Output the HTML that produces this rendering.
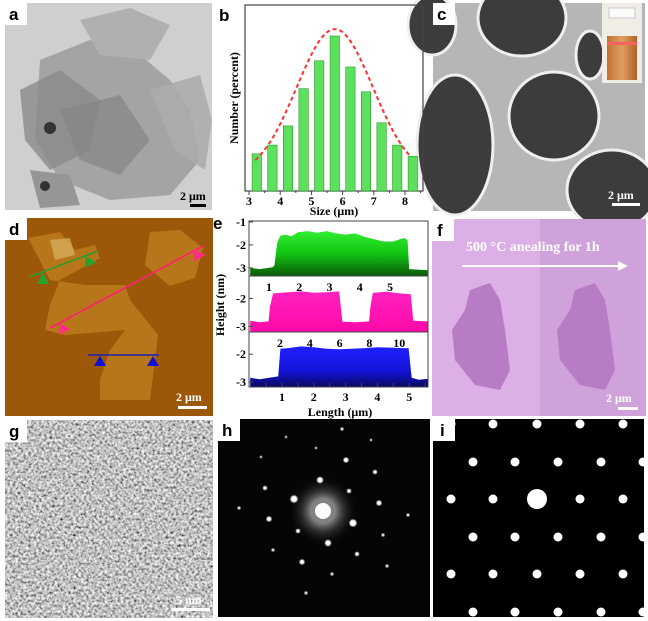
<!DOCTYPE html>
<html><head><meta charset="utf-8"><style>
html,body{margin:0;padding:0;background:#fff}
svg{display:block}
text{font-family:"Liberation Serif",serif;font-weight:bold}
.lab{font-family:"Liberation Sans",sans-serif;font-weight:bold;font-size:17px}
</style></head><body>
<svg id="fig" width="648" height="621" viewBox="0 0 648 621">
<defs>
<filter id="noise2" x="0" y="0" width="100%" height="100%"><feTurbulence type="fractalNoise" baseFrequency="0.38" numOctaves="2" seed="7"/><feColorMatrix type="matrix" values="1.5 0 0 0 -0.22 1.5 0 0 0 -0.22 1.5 0 0 0 -0.22 0 0 0 0 1"/></filter>
<filter id="blur1"><feGaussianBlur stdDeviation="0.6"/></filter>
<radialGradient id="glow"><stop offset="0" stop-color="#fff"/><stop offset="0.35" stop-color="#fff"/><stop offset="0.6" stop-color="#aaa" stop-opacity="0.5"/><stop offset="1" stop-color="#000" stop-opacity="0"/></radialGradient>
<linearGradient id="gGreen" x1="0" y1="0" x2="0" y2="1"><stop offset="0" stop-color="#30ee30"/><stop offset="0.5" stop-color="#12c412"/><stop offset="1" stop-color="#0a5a0a"/></linearGradient>
<linearGradient id="gMag" x1="0" y1="0" x2="0" y2="1"><stop offset="0" stop-color="#ff20c0"/><stop offset="1" stop-color="#ff0aa8"/></linearGradient>
<linearGradient id="gBlue" x1="0" y1="0" x2="0" y2="1"><stop offset="0" stop-color="#2020ff"/><stop offset="0.6" stop-color="#1414d8"/><stop offset="1" stop-color="#0a0a60"/></linearGradient>
<linearGradient id="vial" x1="0" y1="0" x2="1" y2="0"><stop offset="0" stop-color="#c07030"/><stop offset="0.5" stop-color="#e0a060"/><stop offset="1" stop-color="#b06028"/></linearGradient>
</defs>

<g>
<rect x="5" y="3" width="207" height="207" fill="#cfcfcf"/>
<polygon points="40,60 90,40 140,55 170,80 190,110 200,160 170,195 110,200 60,180 35,140" fill="#9e9e9e" opacity="0.9"/>
<polygon points="20,90 60,70 100,100 90,150 50,170 25,140" fill="#8a8a8a" opacity="0.8"/>
<polygon points="80,20 130,8 170,25 150,60 100,55" fill="#b0b0b0"/>
<polygon points="60,110 120,95 150,140 120,175 80,160" fill="#848484" opacity="0.7"/>
<polygon points="150,90 200,75 212,120 205,170 175,150" fill="#acacac" opacity="0.9"/>
<polygon points="30,170 70,175 80,205 40,208" fill="#969696"/>
<circle cx="50" cy="128" r="6" fill="#333"/><circle cx="45" cy="186" r="5" fill="#333"/>
<rect x="5" y="3" width="22" height="22" fill="#fff"/>
<text class="lab" x="9" y="20">a</text>
<text x="180" y="200" font-size="12" fill="#000">2 μm</text>
<rect x="190" y="204" width="16" height="3" fill="#000"/>
</g>

<g>
<rect x="433" y="3" width="212" height="208" fill="#b6b6b6"/>
<g fill="#3c3c3c" stroke="#efefef" stroke-width="3">
<ellipse cx="522" cy="18" rx="44" ry="38"/>
<ellipse cx="432" cy="25" rx="24" ry="30"/>
<ellipse cx="455" cy="145" rx="38" ry="70"/>
<ellipse cx="554" cy="116" rx="45" ry="44"/>
<ellipse cx="612" cy="190" rx="45" ry="40"/>
<ellipse cx="590" cy="55" rx="14" ry="24"/>
</g>
<rect x="602" y="3" width="40" height="80" fill="#f0ece6"/>
<rect x="609" y="8" width="26" height="10" fill="#fafafa" stroke="#ccc"/>
<rect x="607" y="36" width="30" height="44" fill="url(#vial)"/>
<rect x="607" y="42" width="30" height="3" fill="#ff6060"/>
<rect x="433" y="3" width="22" height="22" fill="#fff"/>
<text class="lab" x="437" y="20">c</text>
<text x="608" y="199" font-size="12" fill="#fff">2 μm</text>
<rect x="612" y="203" width="28" height="3" fill="#fff"/>
</g>

<g>
<rect x="5" y="218" width="208" height="198" fill="#9c5808"/>
<polygon points="28,238 60,232 75,250 95,245 100,258 60,280 50,305 45,330 65,335 125,330 110,350 100,380 100,400 150,400 158,335 130,300 125,285 110,285 85,285 50,280" fill="#b8761a"/>
<polygon points="150,232 180,230 203,248 195,278 170,286 145,265" fill="#b8761a"/>
<polygon points="50,240 70,238 75,255 55,260" fill="#e0c070" opacity="0.6"/>
<g stroke-width="1.6">
<line x1="29" y1="277" x2="98" y2="251" stroke="#2c9a2c"/>
<line x1="50" y1="328" x2="203" y2="246" stroke="#ff2070"/>
<line x1="88" y1="355" x2="159" y2="355" stroke="#2020b0"/>
</g>
<polygon points="37,284 43,272 49,284" fill="#2ca02c"/><polygon points="85,268 97,262 85,256" fill="#2ca02c"/>
<polygon points="59,323 71,329 59,335" fill="#ff3080"/><polygon points="194,249 206,255 194,261" fill="#ff3080"/>
<polygon points="94,366 100,356 106,366" fill="#1010d0"/><polygon points="147,366 153,356 159,366" fill="#1010d0"/>
<rect x="5" y="218" width="22" height="22" fill="#fff"/>
<text class="lab" x="9" y="235">d</text>
<text x="176" y="401" font-size="12" fill="#fff">2 μm</text>
<rect x="178" y="406" width="29" height="3" fill="#fff"/>
</g>

<g>
<rect x="432" y="219" width="108" height="197" fill="#dcb0e6"/>
<rect x="540" y="219" width="106" height="197" fill="#cfa2dc"/>
<polygon points="470,290 490,283 500,300 505,330 510,370 500,390 475,385 455,360 452,330 465,310" fill="#b87cc4"/>
<polygon points="575,290 595,283 605,300 610,330 615,370 605,390 580,385 560,360 557,330 570,310" fill="#b87cc4"/>
<text x="466" y="251" font-size="14" fill="#fff">500 °C anealing for 1h</text>
<line x1="462" y1="266" x2="620" y2="266" stroke="#fff" stroke-width="2"/>
<polygon points="618,261 628,266 618,271" fill="#fff"/>
<rect x="432" y="219" width="22" height="22" fill="#fff"/>
<text class="lab" x="437" y="236">f</text>
<text x="606" y="402" font-size="12" fill="#fff">2 μm</text>
<rect x="618" y="407" width="20" height="3" fill="#fff"/>
</g>

<g>
<rect x="5" y="420" width="208" height="198" fill="#888"/>
<rect x="5" y="420" width="208" height="198" filter="url(#noise2)"/>
<rect x="5" y="420" width="22" height="22" fill="#fff"/>
<text class="lab" x="9" y="437">g</text>
<text x="176" y="604" font-size="12" fill="#fff">5 nm</text>
<rect x="172" y="608" width="38" height="3" fill="#fff"/>
</g>

<g id="panelH">
<rect x="218" y="419" width="212" height="198" fill="#050505"/>
<circle cx="323" cy="511" r="35" fill="url(#glow)" opacity="0.5"/>
<circle cx="323" cy="511" r="8" fill="#fff"/>
</g>

<g id="panelI">
<rect x="433" y="419" width="211" height="198" fill="#000"/>
<circle cx="537" cy="499" r="10" fill="#fff"/>
</g>

<g id="chartB">
<text class="lab" x="219" y="21">b</text>
</g>
<g id="chartE">
<text class="lab" x="213" y="229">e</text>
</g>
</svg>
<script>
const NS='http://www.w3.org/2000/svg';
function mk(parent,tag,attrs){const e=document.createElementNS(NS,tag);for(const k in attrs)e.setAttribute(k,attrs[k]);parent.appendChild(e);return e;}

const sizeCategories=[3.25,3.75,4.25,4.75,5.25,5.75,6.25,6.75,7.25,7.75,8.25];
const sizePercent=[6.0,7.4,10.5,16.5,21.0,25.0,20.0,16.0,11.0,7.4,5.6];
const sizeTicks=[3,4,5,6,7,8];
const fitParams=[23.8,5.75,1.22,2.3];

const greenX=[0,0.3,0.7,0.76,0.85,0.95,1.1,1.3,1.5,1.8,2.1,2.4,2.7,3.0,3.3,3.6,3.9,4.2,4.5,4.7,4.85,4.95,5.0,5.6];
const greenY=[-3.0,-3.05,-2.97,-2.9,-1.9,-1.6,-1.55,-1.62,-1.45,-1.4,-1.47,-1.4,-1.5,-1.55,-1.5,-1.65,-1.75,-1.85,-1.85,-1.75,-1.7,-1.8,-3.05,-3.1];
const magX=[0,0.3,0.58,0.62,0.72,1.2,1.6,2.0,2.4,2.8,2.85,2.9,3.3,3.74,3.78,3.86,4.3,4.7,5.05,5.13,5.6];
const magY=[-2.8,-2.85,-2.82,-2.3,-1.82,-1.78,-1.75,-1.8,-1.78,-1.75,-2.3,-2.83,-2.85,-2.82,-2.3,-1.8,-1.76,-1.82,-1.85,-2.8,-2.82];
const blueX=[0,0.3,0.6,0.88,0.95,1.2,1.6,2.0,2.4,2.8,3.2,3.6,4.0,4.4,4.8,4.98,5.08,5.3,5.6];
const blueY=[-2.85,-2.9,-2.85,-2.8,-1.8,-1.78,-1.72,-1.75,-1.8,-1.82,-1.8,-1.78,-1.75,-1.76,-1.78,-1.78,-2.85,-2.92,-2.88];
const lengthTicks=[1,2,3,4,5];
const magTopTicks=[1,2,3,4,5];
const blueTopTicks=[2,4,6,8,10];
const heightTicks=[-1,-2,-3];

const saedX=[342,346,320,349,375,294,379,265,239,269,353,408,298,328,383,273,357,302,387,332,306,261,316,286,371];
const saedY=[429,460,480,491,472,499,503,488,508,519,523,515,531,543,535,550,554,562,566,574,593,457,448,437,440];
const saedR=[1.5,2.5,3,2,2,3.5,2.5,2,1.5,2.5,3.5,1.5,2,3,1.5,1.5,2,2.5,1.5,1.5,1.5,1.2,1.2,1.2,1.2];
const latticeRowsY=[424,462,499,537,574,612];
const latticeEvenX=[451,493,580,623,537];
const latticeOddX=[473,515,558,601,643];

(function(){
const g=document.getElementById('chartB');
const L=245,R=423,T=5,B=191;
const xs=v=>249+(v-3)*31.2;
const ys=v=>B-v*(B-T)/30;
const frame=mk(g,'rect',{x:L,y:T,width:R-L,height:B-T,fill:'none',stroke:'#444','stroke-width':1.2});


sizeCategories.forEach((c,i)=>{
 const b=mk(g,'rect',{x:xs(c)-4.7,y:ys(sizePercent[i]),width:9.4,height:B-ys(sizePercent[i]),fill:'#5de05d',stroke:'#2a9a2a','stroke-width':0.6});
 
 
});
let d='';
for(let x=3.2;x<=8.2;x+=0.05){const y=fitParams[0]*Math.exp(-Math.pow(x-fitParams[1],2)/(2*fitParams[2]*fitParams[2]))+fitParams[3];d+=(d?'L':'M')+xs(x).toFixed(1)+','+ys(y).toFixed(1);}
const fit=mk(g,'path',{d:d,fill:'none',stroke:'#ff3030','stroke-width':2,'stroke-dasharray':'4,3'});


sizeTicks.forEach(t=>{
 mk(g,'line',{x1:xs(t),y1:B,x2:xs(t),y2:B+4,stroke:'#444'});
 mk(g,'line',{x1:xs(t+0.5),y1:B,x2:xs(t+0.5),y2:B+2,stroke:'#444'});
 const tl=mk(g,'text',{x:xs(t),y:B+14,'font-size':12,'text-anchor':'middle'});tl.textContent=t;
 
 
});
const xt=mk(g,'text',{x:334,y:215,'font-size':12,'text-anchor':'middle'});xt.textContent='Size (μm)';


const yt=mk(g,'text',{x:0,y:0,'font-size':12,'text-anchor':'middle',transform:'translate(238,98) rotate(-90)'});yt.textContent='Number (percent)';


})();

(function(){
const g=document.getElementById('chartE');
const L=249,R=428;
const xs=v=>250.2+v*31.8;
const subs=[{t:221,b:276,top:-0.96,bot:-3.35,x:greenX,y:greenY,f:'url(#gGreen)',n:'green-profile'},
 {t:276,b:332,top:-1.2,bot:-3.2,x:magX,y:magY,f:'url(#gMag)',n:'magenta-profile'},
 {t:332,b:387,top:-1.2,bot:-3.18,x:blueX,y:blueY,f:'url(#gBlue)',n:'blue-profile'}];
subs.forEach(s=>{
 const ys=v=>s.t+(s.top-v)/(s.top-s.bot)*(s.b-s.t);
 let d='M'+xs(s.x[0]).toFixed(1)+','+s.b;
 s.x.forEach((x,i)=>{d+='L'+xs(x).toFixed(1)+','+ys(s.y[i]).toFixed(1);});
 d+='L'+xs(s.x[s.x.length-1]).toFixed(1)+','+s.b+'Z';
 const p=mk(g,'path',{d:d,fill:s.f});
 
 
 heightTicks.forEach(h=>{
  const yy=ys(h);
  if(yy<s.t-1||yy>s.b+1)return;
  mk(g,'line',{x1:L,y1:yy,x2:L+4,y2:yy,stroke:'#444'});
  const tl=mk(g,'text',{x:L-3,y:yy+4,'font-size':12,'text-anchor':'end'});tl.textContent=h;
  
  
 });
 const fr=mk(g,'rect',{x:L,y:s.t,width:R-L,height:s.b-s.t,fill:'none',stroke:'#444','stroke-width':1});
 
 
});
const mx=v=>269+(v-1)*30.25;
magTopTicks.forEach(t=>{const tl=mk(g,'text',{x:mx(t),y:291,'font-size':12,'text-anchor':'middle'});tl.textContent=t;
 
 });
const bx=v=>280+(v-2)*14.9;
blueTopTicks.forEach(t=>{const tl=mk(g,'text',{x:bx(t),y:347,'font-size':12,'text-anchor':'middle'});tl.textContent=t;
 
 });
for(let v=0.5;v<=5.5;v+=0.5){mk(g,'line',{x1:xs(v),y1:387,x2:xs(v),y2:383,stroke:'#444'});}
lengthTicks.forEach(t=>{const tl=mk(g,'text',{x:xs(t),y:401,'font-size':12,'text-anchor':'middle'});tl.textContent=t;
 
 });
const xt=mk(g,'text',{x:340,y:416,'font-size':12,'text-anchor':'middle'});xt.textContent='Length (μm)';


const yt=mk(g,'text',{x:0,y:0,'font-size':12,'text-anchor':'middle',transform:'translate(224,305) rotate(-90)'});yt.textContent='Height (nm)';


})();

(function(){
const g=document.getElementById('panelH');
saedX.forEach((x,i)=>{const c=mk(g,'circle',{cx:x,cy:saedY[i],r:saedR[i],fill:'#fff',filter:'url(#blur1)'});
 
 });
mk(g,'rect',{x:218,y:419,width:22,height:22,fill:'#fff'});
const t=mk(g,'text',{x:222,y:436,class:'lab'});t.textContent='h';


})();
(function(){
const g=document.getElementById('panelI');
latticeRowsY.forEach((y,ri)=>{
 const xsArr=ri%2===0?latticeEvenX:latticeOddX;
 xsArr.forEach(x=>{
  if(ri===2&&x===537)return;
  const c=mk(g,'circle',{cx:x,cy:y,r:4.5,fill:'#fff'});
  
  
 });
});
mk(g,'rect',{x:433,y:419,width:22,height:22,fill:'#fff'});
const t=mk(g,'text',{x:440,y:436,class:'lab'});t.textContent='i';


})();
</script>
</body></html>
